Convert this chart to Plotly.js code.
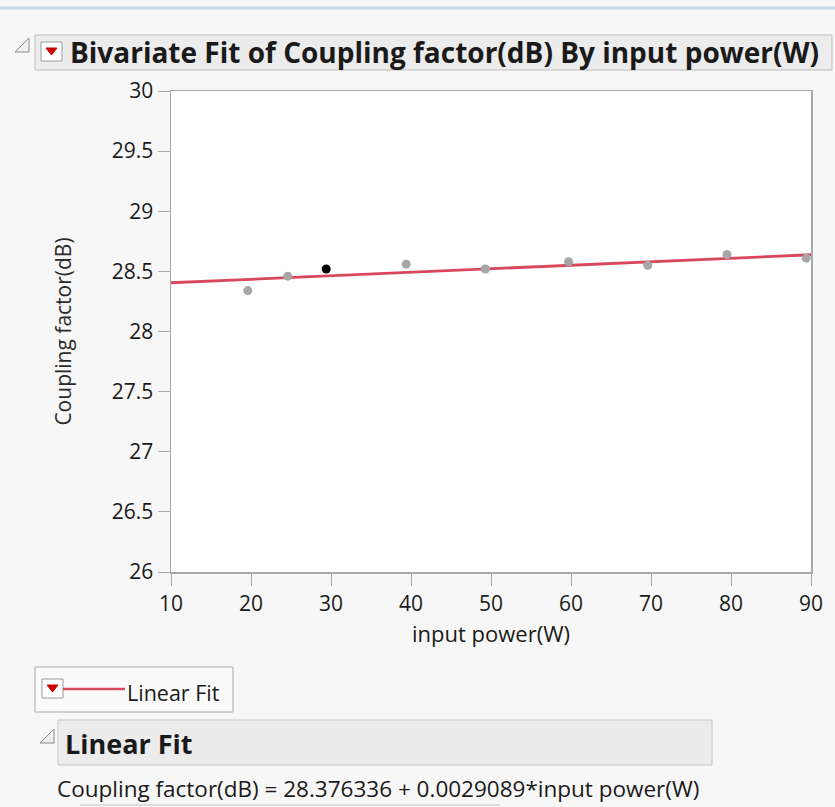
<!DOCTYPE html>
<html>
<head>
<meta charset="utf-8">
<script src="https://cdn.plot.ly/plotly-3.0.1.min.js"></script>
<style>
html,body{margin:0;padding:0;background:#f7f7f7;}
#chart{width:835px;height:807px;}
</style>
</head>
<body>
<div id="chart"></div>
<script>
// Data
const inputPower = [19.6, 24.6, 29.4, 39.4, 49.3, 59.7, 69.6, 79.5, 89.4];
const couplingFactor = [28.34, 28.46, 28.52, 28.56, 28.52, 28.58, 28.55, 28.64, 28.61];
const pointColors = ['#a6a6a6','#a6a6a6','#000000','#a6a6a6','#a6a6a6','#a6a6a6','#a6a6a6','#a6a6a6','#a6a6a6'];
const fitIntercept = 28.376336;
const fitSlope = 0.0029089;
const fitX = [10, 90];
const fitY = fitX.map(x => fitIntercept + fitSlope * x);
const xTicks = [10, 20, 30, 40, 50, 60, 70, 80, 90];
const yTicks = [26, 26.5, 27, 27.5, 28, 28.5, 29, 29.5, 30];

const W = 835, H = 807;
const L = 171, R = 24, T = 91, B = 235;
const PW = W - L - R, PH = H - T - B;
const px = x => (x - L) / PW;
const py = y => (H - B - y) / PH;

const font = '"Open Sans", "DejaVu Sans", sans-serif';
const grayLine = '#a9a9a9';
const txt = '#1a1a1a';

function rect(x0, y0, x1, y1, fill, line) {
  return {type:'rect', xref:'paper', yref:'paper', x0:px(x0), x1:px(x1), y0:py(y1), y1:py(y0),
          fillcolor:fill, line:{color:line, width:1}, layer:'above'};
}
function pathShape(pts, fill, line, w) {
  const d = pts.map((p,i) => (i? 'L':'M') + px(p[0]) + ',' + py(p[1])).join(' ') + ' Z';
  return {type:'path', xref:'paper', yref:'paper', path:d, fillcolor:fill, line:{color:line, width:w||1}, layer:'above'};
}
function lineShape(x0, y0, x1, y1, color, w) {
  return {type:'line', xref:'paper', yref:'paper', x0:px(x0), x1:px(x1), y0:py(y0), y1:py(y1),
          line:{color:color, width:w}, layer:'above'};
}
function dropIcon(x, y) {
  return [
    {type:'rect', xref:'paper', yref:'paper', x0:px(x), x1:px(x+21), y0:py(y+19), y1:py(y),
     fillcolor:'#ffffff', line:{color:'#9a9a9a', width:1}, layer:'above'},
    pathShape([[x+5, y+6], [x+16, y+6], [x+10.5, y+13]], '#cc0000', '#cc0000', 1)
  ];
}
function disclosure(x, y) {
  return pathShape([[x, y+14], [x+14, y+14], [x+14, y]], '#f0f0f0', '#8a8a8a', 1);
}

const shapes = [
  lineShape(0, 8, 835, 8, '#c6d5e7', 3),
  rect(35, 35, 832, 70, '#ececec', '#bdbdbd'),
  ...dropIcon(41, 42),
  disclosure(15, 38),
  rect(35, 667, 233, 712, '#fafafa', '#a9a9a9'),
  ...dropIcon(42, 679),
  lineShape(63, 689, 125, 689, '#d9485a', 2.5),
  rect(58, 720, 712, 765, '#ececec', '#c4c4c4'),
  disclosure(40, 729),
  lineShape(80, 805, 500, 805, '#c4c4c4', 1)
];

const annotations = [
  {xref:'paper', yref:'paper', x:px(68), y:py(52), xanchor:'left', yanchor:'middle', showarrow:false,
   text:'<b>Bivariate Fit of Coupling factor(dB) By input power(W)</b>', font:{family:font, size:28, color:txt}},
  {xref:'paper', yref:'paper', x:px(125), y:py(692), xanchor:'left', yanchor:'middle', showarrow:false,
   text:'Linear Fit', font:{family:font, size:21.5, color:txt}},
  {xref:'paper', yref:'paper', x:px(63), y:py(743), xanchor:'left', yanchor:'middle', showarrow:false,
   text:'<b>Linear Fit</b>', font:{family:font, size:27, color:txt}},
  {xref:'paper', yref:'paper', x:px(55), y:py(788), xanchor:'left', yanchor:'middle', showarrow:false,
   text:'Coupling factor(dB) = 28.376336 + 0.0029089*input power(W)', font:{family:font, size:22.5, color:txt}}
];

const traces = [
  {x: fitX, y: fitY, type:'scatter', mode:'lines', line:{color:'#d9485a', width:2.8}, hoverinfo:'skip', showlegend:false},
  {x: inputPower, y: couplingFactor, type:'scatter', mode:'markers',
   marker:{color: pointColors, size:9, line:{width:0}}, showlegend:false}
];

const layout = {
  width: W, height: H,
  margin: {l:L, r:R, t:T, b:B, pad:0},
  paper_bgcolor:'#f7f7f7', plot_bgcolor:'#ffffff',
  showlegend:false,
  font:{family:font, color:txt},
  xaxis:{range:[10,90], tickvals:xTicks, ticktext:xTicks.map(String), showgrid:false, zeroline:false,
         ticks:'outside', ticklen:12, tickcolor:grayLine, showline:true, linecolor:grayLine, linewidth:1.5, mirror:true,
         tickfont:{family:font, size:21, color:txt},
         title:{text:'input power(W)', font:{family:font, size:22, color:txt}, standoff:11}},
  yaxis:{range:[26,30], tickvals:yTicks, ticktext:yTicks.map(String), showgrid:false, zeroline:false,
         ticks:'outside', ticklen:12, tickcolor:grayLine, showline:true, linecolor:grayLine, linewidth:1.5, mirror:true,
         tickfont:{family:font, size:21, color:txt},
         title:{text:'Coupling factor(dB)', font:{family:font, size:21, color:'#2a2a2a'}, standoff:34}},
  shapes: shapes,
  annotations: annotations
};

Plotly.newPlot('chart', traces, layout, {displayModeBar:false, staticPlot:true});
</script>
</body>
</html>
